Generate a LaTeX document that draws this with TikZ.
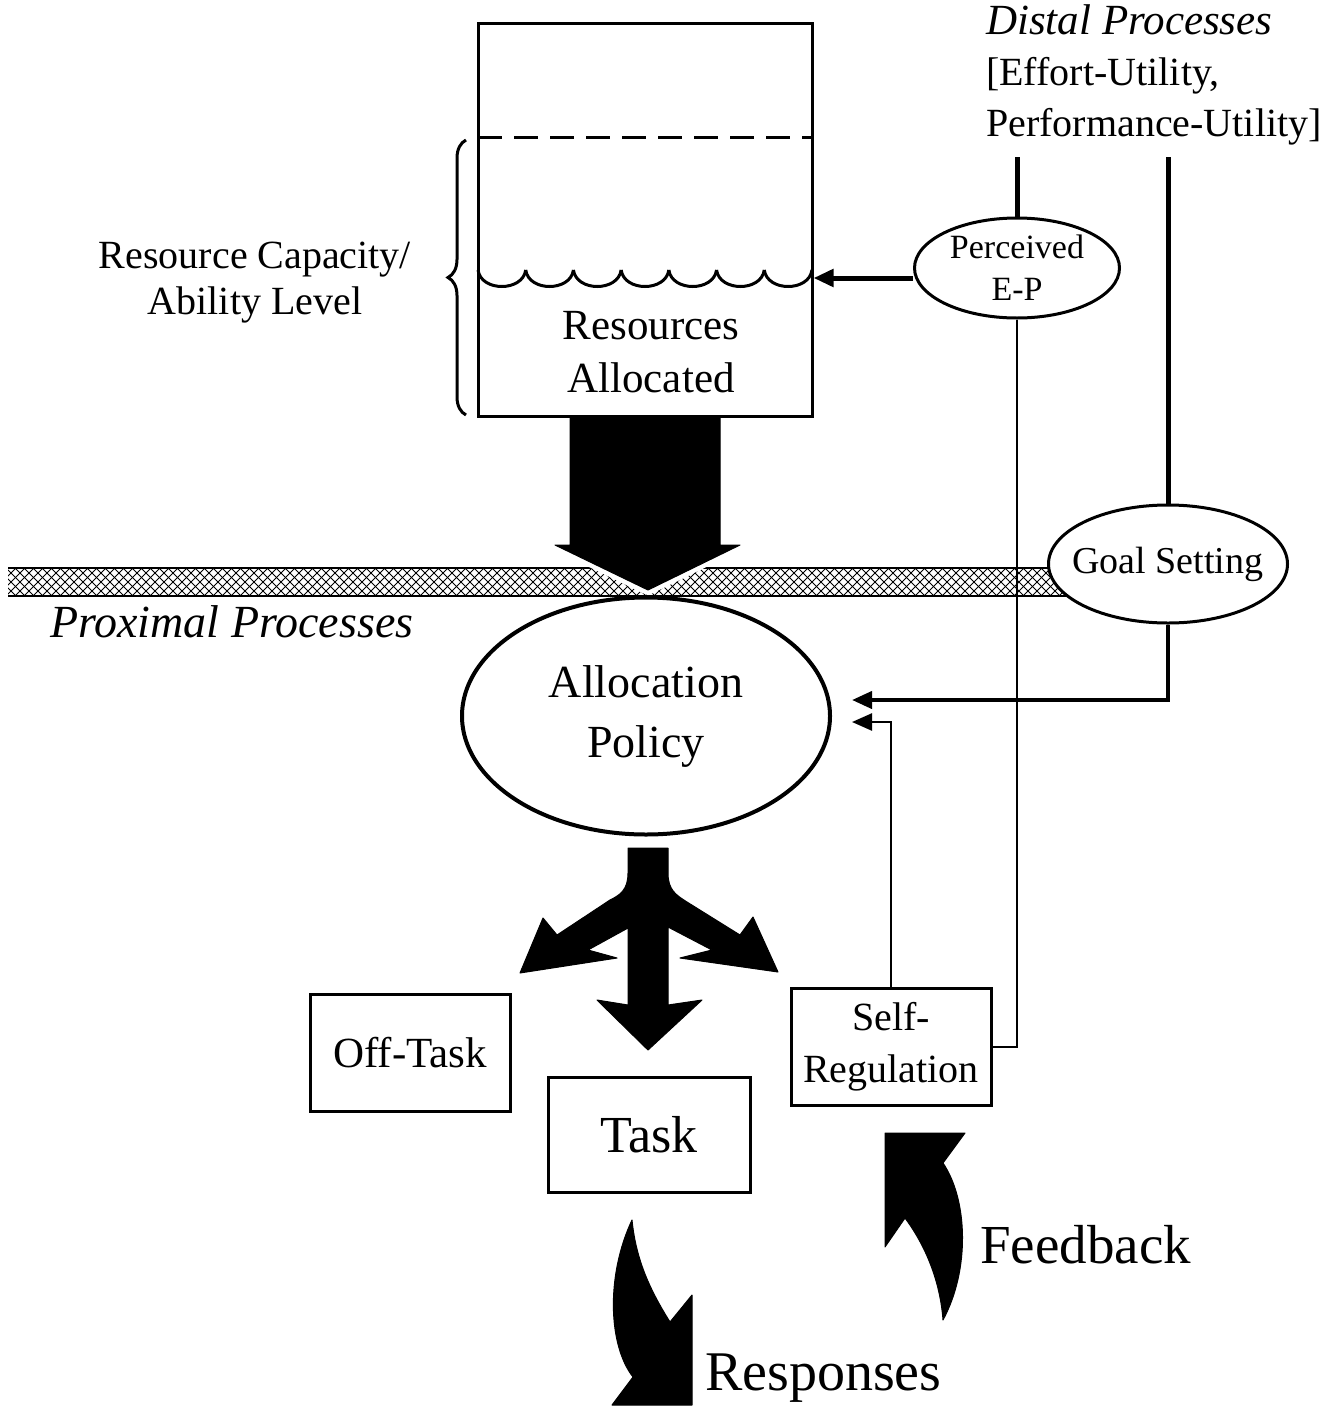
\documentclass[tikz,border=0pt]{standalone}
\usepackage{fontspec}
\setmainfont{Liberation Serif}
\usetikzlibrary{shapes.geometric,arrows.meta,decorations.pathreplacing}
\tikzset{
    EL/.style ={ellipse, draw, line width=3pt, fill=white, inner sep=0pt},
    RB/.style ={rectangle, draw, line width=3pt, fill=white, inner sep=0pt},
    TK/.style ={line width=5pt},
    TN/.style ={line width=2pt},
    AR/.style ={-{Triangle[length=20pt,width=17pt]}},
    BK/.style ={fill=black, draw=black, line width=1pt, line join=round}}

\begin{document}
\begin{tikzpicture}[x=1pt,y=-1pt]
        \useasboundingbox (0,0) rectangle (1341,1408);
        % hatched band
        \begin{scope}
            \clip (8,568) rectangle (1070,596);
            \foreach \x in {-30,-21,...,1080}{
                \draw[line width=1pt] (\x,568) -- ++(28,28);
                \draw[line width=1pt] (\x,596) -- ++(28,-28);}
        \end{scope}
        \draw[line width=1.5pt] (8,568) -- (1070,568);
        \draw[line width=1.5pt] (8,596) -- (1070,596);
        % big arrow
        \draw[BK, draw=white, line width=10pt] (570,416) -- (570,545) -- (555,545) -- (648,590) -- (740,545) -- (720,545) -- (720,416) -- cycle;
        \draw[BK] (570,416) -- (570,545) -- (555,545) -- (648,590) -- (740,545) -- (720,545) -- (720,416) -- cycle;
        % nodes
        \node[RB, minimum width=334pt, minimum height=393pt] (tank) at (645,219.5){};
        \node[font=\fontsize{43}{53}\selectfont, align=center] (ra) at (651,352){Resources\\Allocated};
        \node[font=\fontsize{40}{46}\selectfont, align=center] (rc) at (255,283){Resource Capacity/\\Ability Level};
        \node[font=\fontsize{40}{51}\selectfont, align=left, anchor=north west, inner sep=0pt] (dp) at (986,4){{\fontsize{43}{51}\selectfont\itshape Distal Processes}\\{[}Effort-Utility,\\Performance-Utility{]}};
        \node[font=\fontsize{46}{50}\selectfont\itshape, anchor=west, inner sep=0pt] (pp) at (50,622){Proximal Processes};
        \node[EL, minimum width=205pt, minimum height=100pt, font=\fontsize{34}{42}\selectfont, align=center] (pep) at (1017,268){Perceived\\E-P};
        \node[EL, minimum width=239pt, minimum height=118pt, label={[font=\fontsize{38}{45}\selectfont]center:Goal Setting}] (gs) at (1168,564){};
        \node[EL, line width=4pt, minimum width=368pt, minimum height=237pt, font=\fontsize{46}{60}\selectfont, align=center] (ap) at (646,716){Allocation\\Policy};
        \node[RB, minimum width=200pt, minimum height=117pt, font=\fontsize{43}{50}\selectfont] (ot) at (410,1053){Off-Task};
        \node[RB, minimum width=202pt, minimum height=115pt, font=\fontsize{52}{60}\selectfont] (tk) at (649,1135){Task};
        \node[RB, minimum width=200pt, minimum height=117pt, font=\fontsize{40}{52}\selectfont, align=center] (sr) at (891,1047){Self-\\Regulation};
        \node[font=\fontsize{55}{60}\selectfont, anchor=west, inner sep=0pt] (fb) at (980,1245){Feedback};
        \node[font=\fontsize{56}{60}\selectfont, anchor=west, inner sep=0pt] (rs) at (705,1378){Responses};
        \coordinate (g1) at (852,700);
        \coordinate (s1) at (852,722);
        % tank levels
        \draw[line width=3pt, dash pattern=on 24pt off 12pt] (478,137) -- (812,137);
        \foreach \i in {0,...,6}
            \draw[line width=3pt] ({478+\i*47.71},270) .. controls +(3,22) and +(-3,22) .. ({478+(\i+1)*47.71},270);
        \draw[line width=3pt, decorate, decoration={brace, amplitude=18pt}] (466,415) -- (466,140);
        % connectors
        \draw[TK, AR] ([yshift=-10pt]pep.west) -- ([yshift=-10pt]pep.west -| tank.east);
        \draw[TK] (pep.north) -- (pep.north |- 0,157);
        \draw[TK] (gs.north) -- (gs.north |- 0,157);
        \draw[line width=4pt, AR] (gs.south) |- (g1);
        \draw[line width=2.5pt, AR] (sr.north) |- (s1);
        \draw[TN] (pep.south) |- (sr.east);
        % split arrow
        \draw[BK] (628,848) -- (628,873) .. controls (628,890) and (620,895) .. (610,900) -- (557,935) -- (543,918) -- (520,973) -- (617,958) -- (588,950) -- (628,928) -- (628,1005) -- (597,1000) -- (648,1050) -- (702,1000) -- (668,1005) -- (668,927) -- (712,950) -- (680,958) -- (778,972) -- (753,917) -- (740,935) -- (687,902) .. controls (676,895) and (668,890) .. (668,873) -- (668,848) -- cycle;
        % curved arrows
        \draw[BK] (632,1220) .. controls (606,1275) and (608,1345) .. (633,1377) -- (612,1405) -- (692,1405) -- (692,1295) -- (670,1322) .. controls (650,1290) and (636,1260) .. (632,1220) -- cycle;
        \draw[BK] (885,1133) -- (965,1133) -- (943,1163) .. controls (968,1200) and (970,1270) .. (943,1320) .. controls (940,1280) and (925,1245) .. (905,1218) -- (885,1247) -- cycle;
    \end{tikzpicture}
\end{document}
